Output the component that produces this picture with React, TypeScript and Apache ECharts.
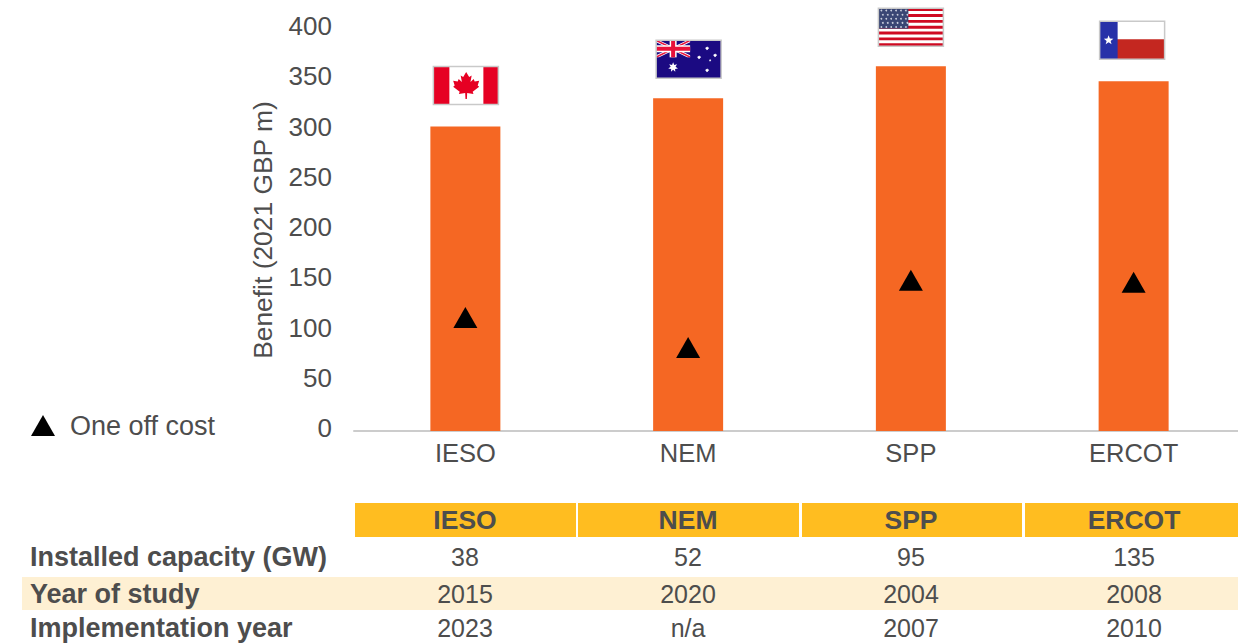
import React, { useEffect, useRef } from "react";
import * as echarts from "echarts";

const categories = ["IESO", "NEM", "SPP", "ERCOT"];
const benefit = [303, 331, 363, 348];
const oneOffCost = [113, 83, 150, 148];
const yearsHeader = ["Installed capacity (GW)", "Year of study", "Implementation year"];
const installedCapacity = ["38", "52", "95", "135"];
const yearOfStudy = ["2015", "2020", "2004", "2008"];
const implementationYear = ["2023", "n/a", "2007", "2010"];
const flags = ["ca", "au", "us", "tx"];
const flagGaps = [22, 20, 20, 22];
const flagNudges = [0, 0, -0.5, -2];

const ORANGE = "#F56723";
const GOLD = "#FFBD20";
const CREAM = "#FEF0D3";
const TEXT = "#4D4D4D";
const FONT = "'Liberation Sans', Arial, sans-serif";

const FW = 65;
const FH = 38;

function star(cx: number, cy: number, r: number, n: number, fill: string, inner = 0.42) {
  const points: number[][] = [];
  for (let i = 0; i < n * 2; i++) {
    const a = -Math.PI / 2 + (i * Math.PI) / n;
    const rr = i % 2 === 0 ? r : r * inner;
    points.push([cx + rr * Math.cos(a), cy + rr * Math.sin(a)]);
  }
  return { type: "polygon", shape: { points }, style: { fill } };
}
const rect = (x: number, y: number, width: number, height: number, fill: string) => ({
  type: "rect",
  shape: { x, y, width, height },
  style: { fill },
});
const band = (points: number[][], fill: string) => ({ type: "polygon", shape: { points }, style: { fill } });

function flagChildren(code: string) {
  const c: any[] = [];
  if (code === "ca") {
    c.push(rect(0, 0, FW, FH, "#FFFFFF"));
    c.push(rect(0, 0, 16, FH, "#E60023"), rect(FW - 15, 0, 15, FH, "#E60023"));
    const m = FW / 2 + 0.3;
    const leaf = [
      [0, -13], [3, -8], [5.5, -9.5], [4.3, -3], [7.5, -6], [8.5, -3.5], [13, -4.2], [11.5, 0.5],
      [13, 1.8], [6.5, 6.8], [7.3, 9], [1, 8], [0.7, 14], [-0.7, 14], [-1, 8], [-7.3, 9],
      [-6.5, 6.8], [-13, 1.8], [-11.5, 0.5], [-13, -4.2], [-8.5, -3.5], [-7.5, -6], [-4.3, -3],
      [-5.5, -9.5], [-3, -8],
    ].map(([x, y]) => [m + x, FH / 2 - 0.5 + y]);
    c.push(band(leaf, "#E60023"));
  } else if (code === "au") {
    c.push(rect(0, 0, FW, FH, "#1B0A82"));
    const w = 34;
    const h = 17;
    c.push(band([[0, 0], [3, 0], [w, h - 2], [w, h], [w - 3, h], [0, 2]], "#FFFFFF"));
    c.push(band([[w, 0], [w - 3, 0], [0, h - 2], [0, h], [3, h], [w, 2]], "#FFFFFF"));
    c.push(band([[0, 0], [1.5, 0], [w, h - 1], [w, h], [w - 1.5, h], [0, 1]], "#E8113A"));
    c.push(band([[w, 0], [w - 1.5, 0], [0, h - 1], [0, h], [1.5, h], [w, 1]], "#E8113A"));
    c.push(rect(w / 2 - 3.5, 0, 7, h, "#FFFFFF"), rect(0, h / 2 - 3.5, w, 7, "#FFFFFF"));
    c.push(rect(w / 2 - 2, 0, 4, h, "#E8113A"), rect(0, h / 2 - 2, w, 4, "#E8113A"));
    c.push(star(17, 27, 5, 7, "#FFFFFF", 0.5));
    c.push(star(51, 8, 2.2, 7, "#FFFFFF", 0.5), star(59, 15, 2.2, 7, "#FFFFFF", 0.5));
    c.push(star(43, 17, 2.2, 7, "#FFFFFF", 0.5), star(54, 20, 1.3, 5, "#FFFFFF", 0.5));
    c.push(star(51, 30, 2.2, 7, "#FFFFFF", 0.5));
  } else if (code === "us") {
    c.push(rect(0, 0, FW, FH, "#FFFFFF"));
    for (let i = 0; i < 13; i += 2) c.push(rect(0, (i * FH) / 13, FW, FH / 13, "#CF0A22"));
    c.push(rect(0, 0, 30, (7 * FH) / 13, "#3A4674"));
    for (let r = 0; r < 5; r++)
      for (let s = 0; s < 6; s++)
        c.push({ type: "circle", shape: { cx: 3 + s * 4.9 + (r % 2 ? 1.5 : 0), cy: 2.4 + r * 4.1, r: 0.9 }, style: { fill: "#C9CEDD" } });
  } else {
    c.push(rect(0, 0, FW, 18, "#FFFFFF"), rect(0, 18, FW, FH - 18, "#C42720"));
    c.push(rect(0, 0, 18, FH, "#2731A8"));
    c.push(star(9, 19, 5, 5, "#FFFFFF"));
  }
  c.push({ type: "rect", shape: { x: 0, y: 0, width: FW, height: FH }, style: { fill: "none", stroke: "#C9C9C9", lineWidth: 1.5 } });
  return c;
}

const columnX = [465, 688, 911, 1134];
const headerBoxes = [[355, 221], [578, 221], [802, 220], [1025, 213]];
const tableRows = [installedCapacity, yearOfStudy, implementationYear];
const rowY = [557, 594, 628];

function tableGraphics() {
  const g: any[] = [];
  g.push({ type: "rect", shape: { x: 22, y: 577, width: 1216, height: 33 }, style: { fill: CREAM }, z: 0 });
  categories.forEach((cat, i) => {
    g.push({ type: "rect", shape: { x: headerBoxes[i][0], y: 503, width: headerBoxes[i][1], height: 34 }, style: { fill: GOLD }, z: 0 });
    g.push({
      type: "text", x: columnX[i], y: 520, z: 1,
      style: { text: cat, fill: TEXT, font: `bold 26.5px ${FONT}`, textAlign: "center", textVerticalAlign: "middle" },
    });
  });
  yearsHeader.forEach((label, r) => {
    g.push({
      type: "text", x: 30, y: rowY[r], z: 1,
      style: { text: label, fill: TEXT, font: `bold 27px ${FONT}`, textAlign: "left", textVerticalAlign: "middle" },
    });
    tableRows[r].forEach((v, i) => {
      g.push({
        type: "text", x: columnX[i], y: rowY[r], z: 1,
        style: { text: v, fill: TEXT, font: `25px ${FONT}`, textAlign: "center", textVerticalAlign: "middle" },
      });
    });
  });
  return g;
}

export default function App() {
  const ref = useRef<HTMLDivElement>(null);
  useEffect(() => {
    const chart = echarts.init(ref.current!, undefined, { renderer: "svg" });
    chart.setOption({
      animation: false,
      backgroundColor: "#FFFFFF",
      textStyle: { fontFamily: FONT },
      grid: { left: 354, width: 891, top: 29, height: 402, outerBoundsMode: "none" },
      legend: {
        left: 31,
        top: 412,
        padding: 0,
        data: [{ name: "One off cost", icon: "triangle", itemStyle: { color: "#000000", opacity: 1 } }],
        itemWidth: 24,
        itemHeight: 21,
        selectedMode: false,
        textStyle: { fontSize: 27, color: TEXT, fontFamily: FONT, padding: [0, 0, 0, 10] },
      },
      xAxis: {
        type: "category",
        data: categories,
        axisTick: { show: false },
        axisLine: { lineStyle: { color: "#CCCCCC", width: 2 } },
        axisLabel: { fontSize: 25.5, color: TEXT, margin: 9, fontFamily: FONT },
      },
      yAxis: {
        type: "value",
        min: 0,
        max: 400,
        interval: 50,
        name: "Benefit (2021 GBP m)",
        nameLocation: "middle",
        nameGap: 78,
        nameTextStyle: { fontSize: 26.4, color: TEXT, fontFamily: FONT },
        axisLine: { show: false },
        axisTick: { show: false },
        splitLine: { show: false },
        axisLabel: { fontSize: 26, color: TEXT, margin: 22, fontFamily: FONT, verticalAlign: "bottom", lineHeight: 6 },
      },
      series: [
        {
          type: "bar",
          name: "Benefit",
          data: benefit,
          barWidth: 70,
          itemStyle: { color: ORANGE },
          silent: true,
        },
        {
          type: "scatter",
          name: "One off cost",
          data: oneOffCost,
          symbol: "triangle",
          symbolSize: [24, 21],
          itemStyle: { color: "#000000", opacity: 1 },
          z: 5,
          silent: true,
        },
        {
          type: "custom",
          name: "Flags",
          silent: true,
          clip: false,
          data: benefit.map((v, i) => [i, v]),
          encode: { x: 0, y: 1 },
          renderItem: (params: any, api: any) => {
            const p = api.coord([api.value(0), api.value(1)]);
            return {
              type: "group",
              x: p[0] - FW / 2 + 0.5 + flagNudges[params.dataIndex],
              y: p[1] - flagGaps[params.dataIndex] - FH,
              children: flagChildren(flags[params.dataIndex]),
            };
          },
        },
      ],
      graphic: tableGraphics(),
    });
    return () => chart.dispose();
  }, []);
  return <div ref={ref} style={{ position: "absolute", left: 0, top: 0, width: 1238, height: 643 }} />;
}
